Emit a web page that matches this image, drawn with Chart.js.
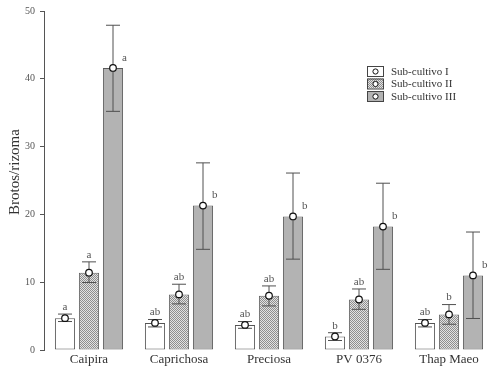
<!DOCTYPE html>
<html>
<head>
<meta charset="utf-8">
<script src="https://cdn.jsdelivr.net/npm/chart.js@4"></script>
<style>
  html, body { margin: 0; padding: 0; background: #fff; }
  #wrap { width: 500px; height: 374px; }
</style>
</head>
<body>
<div id="wrap"><canvas id="chart" width="500" height="374"></canvas></div>
<script>
const categories = ["Caipira", "Caprichosa", "Preciosa", "PV 0376", "Thap Maeo"];
const seriesNames = ["Sub-cultivo I", "Sub-cultivo II", "Sub-cultivo III"];
const yTitle = "Brotos/rizoma";

const meanI = [4.7, 4.0, 3.7, 2.0, 4.0];
const meanII = [11.4, 8.2, 8.0, 7.45, 5.25];
const meanIII = [41.6, 21.3, 19.7, 18.2, 11.0];

const upperI = [5.3, 4.5, 4.2, 2.55, 4.5];
const lowerI = [4.2, 3.4, 3.2, 1.4, 3.4];
const upperII = [13.0, 9.7, 9.45, 9.0, 6.7];
const lowerII = [9.95, 6.8, 6.5, 6.0, 3.8];
const upperIII = [47.9, 27.6, 26.1, 24.6, 17.4];
const lowerIII = [35.2, 14.85, 13.4, 11.9, 4.65];

const lettersI = ["a", "ab", "ab", "b", "ab"];
const lettersII = ["a", "ab", "ab", "ab", "b"];
const lettersIII = ["a", "b", "b", "b", "b"];

const yTicks = [0, 10, 20, 30, 40, 50];

const serif = "'Liberation Serif', 'Times New Roman', Times, serif";

// fine crosshatch for the second sub-culture
function makeHatch() {
  const c = document.createElement("canvas");
  c.width = 2;
  c.height = 2;
  const g = c.getContext("2d");
  g.fillStyle = "#e2e2e2";
  g.fillRect(0, 0, 2, 2);
  g.fillStyle = "#8e8e8e";
  g.fillRect(0, 0, 1, 1);
  g.fillRect(1, 1, 1, 1);
  return document.getElementById("chart").getContext("2d").createPattern(c, "repeat");
}
const hatch = makeHatch();
const fills = ["#ffffff", hatch, "#b3b3b3"];
const borders = ["#555555", "#666666", "#5a5a5a"];

const errors = [
  { upper: upperI, lower: lowerI, letters: lettersI },
  { upper: upperII, lower: lowerII, letters: lettersII },
  { upper: upperIII, lower: lowerIII, letters: lettersIII },
];

const errorBarPlugin = {
  id: "errorBars",
  afterDatasetsDraw(chart) {
    const ctx = chart.ctx;
    const y = chart.scales.y;
    ctx.save();
    chart.data.datasets.forEach((ds, d) => {
      const meta = chart.getDatasetMeta(d);
      meta.data.forEach((bar, i) => {
        const x = bar.x;
        const yu = y.getPixelForValue(errors[d].upper[i]);
        const yl = y.getPixelForValue(errors[d].lower[i]);
        const ym = y.getPixelForValue(ds.data[i]);
        ctx.strokeStyle = "#505050";
        ctx.lineWidth = 1;
        ctx.beginPath();
        ctx.moveTo(x, yu);
        ctx.lineTo(x, yl);
        ctx.moveTo(x - 7, yu);
        ctx.lineTo(x + 7, yu);
        ctx.moveTo(x - 7, yl);
        ctx.lineTo(x + 7, yl);
        ctx.stroke();

        ctx.beginPath();
        ctx.arc(x, ym, 3.3, 0, Math.PI * 2);
        ctx.fillStyle = "#ffffff";
        ctx.fill();
        ctx.strokeStyle = "#111111";
        ctx.lineWidth = 1.2;
        ctx.stroke();

        ctx.fillStyle = "#555555";
        ctx.font = "11px " + serif;
        ctx.textBaseline = "middle";
        if (d < 2) {
          ctx.textAlign = "center";
          ctx.fillText(errors[d].letters[i], x, yu - 7);
        } else {
          ctx.textAlign = "left";
          ctx.fillText(errors[d].letters[i], x + 9, ym - 10);
        }
      });
    });

    // legend
    seriesNames.forEach((name, k) => {
      const cy = 71 + k * 12.5;
      ctx.fillStyle = fills[k];
      ctx.fillRect(367, cy - 5, 16, 10);
      ctx.strokeStyle = "#444444";
      ctx.lineWidth = 1;
      ctx.strokeRect(367.5, cy - 4.5, 16, 10);
      ctx.beginPath();
      ctx.arc(375.5, cy + 0.5, 2.6, 0, Math.PI * 2);
      ctx.fillStyle = "#ffffff";
      ctx.fill();
      ctx.strokeStyle = "#111111";
      ctx.stroke();
      ctx.fillStyle = "#333333";
      ctx.font = "11px " + serif;
      ctx.textAlign = "left";
      ctx.textBaseline = "middle";
      ctx.fillText(name, 391, cy + 1);
    });

    // y axis title
    ctx.translate(15, 172);
    ctx.rotate(-Math.PI / 2);
    ctx.fillStyle = "#333333";
    ctx.font = "15px " + serif;
    ctx.textAlign = "center";
    ctx.textBaseline = "middle";
    ctx.fillText(yTitle, 0, 0);
    ctx.restore();
  },
};

const seriesValues = [meanI, meanII, meanIII];

new Chart(document.getElementById("chart"), {
  type: "bar",
  data: {
    labels: categories,
    datasets: seriesValues.map((vals, k) => ({
      label: seriesNames[k],
      data: vals,
      backgroundColor: fills[k],
      borderColor: borders[k],
      borderWidth: 1,
      borderSkipped: false,
      categoryPercentage: 0.8,
      barPercentage: 0.84,
    })),
  },
  options: {
    responsive: false,
    animation: false,
    layout: { padding: { top: 10, right: 6, left: 0, bottom: 0 } },
    plugins: {
      legend: { display: false },
      tooltip: { enabled: false },
    },
    scales: {
      x: {
        grid: { display: false, drawTicks: false },
        border: { display: false },
        ticks: {
          color: "#333333",
          font: { family: serif, size: 13 },
          padding: 2,
        },
        afterFit: (s) => { s.height = 24; },
      },
      y: {
        min: 0,
        max: 50,
        afterBuildTicks: (s) => { s.ticks = yTicks.map((v) => ({ value: v })); },
        grid: { drawOnChartArea: false, drawTicks: true, tickLength: 4, color: "#555555" },
        border: { display: true, color: "#555555" },
        ticks: {
          color: "#555555",
          font: { family: serif, size: 10 },
          padding: 5,
        },
        afterFit: (s) => { s.width = 44; },
      },
    },
  },
  plugins: [errorBarPlugin],
});
</script>
</body>
</html>
